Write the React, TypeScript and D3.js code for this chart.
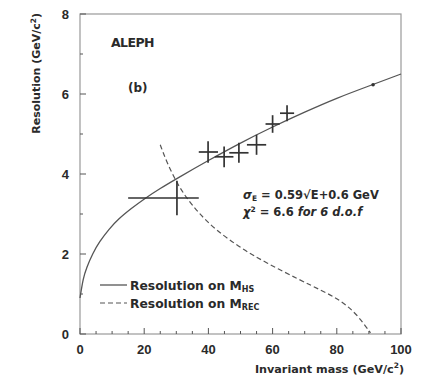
import React from "react";
import * as d3 from "d3";

const fitMass = [0, 1, 2, 4, 6, 9, 12, 16, 20, 25, 30, 40, 50, 60, 70, 80, 90, 100];
const fitRes = [0.9, 1.4, 1.65, 2.02, 2.3, 2.62, 2.88, 3.14, 3.38, 3.64, 3.88, 4.34, 4.78, 5.18, 5.55, 5.9, 6.2, 6.5];

const recMass = [25, 27, 30, 33, 37, 42, 50, 58, 68.5, 75, 81, 86, 90.5];
const recRes = [4.73, 4.3, 3.8, 3.42, 3.02, 2.62, 2.15, 1.78, 1.35, 1.1, 0.85, 0.52, 0.03];

const ptMass = [30.2, 39.9, 44.9, 49.5, 55, 60, 64.5];
const ptRes = [3.4, 4.55, 4.43, 4.53, 4.73, 5.25, 5.52];
const ptMassLo = [15, 37, 42, 46.5, 52, 57.8, 62.3];
const ptMassHi = [37, 43, 47.8, 52.5, 58, 62.2, 66.7];
const ptResErr = [0.43, 0.27, 0.26, 0.25, 0.25, 0.22, 0.2];

const zMass = [91.3];
const zRes = [6.23];

const xTicks = [0, 20, 40, 60, 80, 100];
const yTicks = [0, 2, 4, 6, 8];

export default function App() {
  const left = 80, right = 401, top = 14, bottom = 334;
  const x = d3.scaleLinear().domain([0, 100]).range([left, right]);
  const y = d3.scaleLinear().domain([0, 8]).range([bottom, top]);
  const gen = d3.line<[number, number]>().x(d => x(d[0])).y(d => y(d[1])).curve(d3.curveBasis);
  const fitPath = gen(fitMass.map((m, i) => [m, fitRes[i]]));
  const recPath = gen(recMass.map((m, i) => [m, recRes[i]]));
  const minorX = d3.range(0, 101, 5).filter(v => v % 20 !== 0);
  const minorY = [1, 3, 5, 7];
  const stroke = "#555";
  const txt = "#2a2a2a";
  const font = "'DejaVu Sans', sans-serif";
  const lib = "'Liberation Sans', Arial, sans-serif";
  return (
    <svg width={421} height={375} style={{ position: "absolute", left: 0, top: 0 }} fontFamily={font}>
      <rect x={0} y={0} width={421} height={375} fill="#fff" />
      <rect x={left} y={top} width={right - left} height={bottom - top} fill="none" stroke="#999" strokeWidth={1.2} />
      {xTicks.map(t => (
        <g key={"xt" + t}>
          <line x1={x(t)} x2={x(t)} y1={bottom} y2={bottom - 6} stroke={stroke} strokeWidth={1} />
          <text x={x(t)} y={bottom + 20} textAnchor="middle" fontSize={13} fontFamily={lib} fontWeight="bold" fill={txt}>{t}</text>
        </g>
      ))}
      {minorX.map(t => (
        <line key={"xm" + t} x1={x(t)} x2={x(t)} y1={bottom} y2={bottom - 3} stroke={stroke} strokeWidth={1} />
      ))}
      {yTicks.map(t => (
        <g key={"yt" + t}>
          <line x1={left} x2={left + 6} y1={y(t)} y2={y(t)} stroke={stroke} strokeWidth={1} />
          <text x={left - 11} y={y(t) + 5} textAnchor="end" fontSize={13} fontFamily={lib} fontWeight="bold" fill={txt}>{t}</text>
        </g>
      ))}
      {minorY.map(t => (
        <line key={"ym" + t} x1={left} x2={left + 3} y1={y(t)} y2={y(t)} stroke={stroke} strokeWidth={1} />
      ))}
      <path d={fitPath || ""} fill="none" stroke={stroke} strokeWidth={1.3} />
      <path d={recPath || ""} fill="none" stroke={stroke} strokeWidth={1.2} strokeDasharray="5,3" />
      {ptMass.map((m, i) => (
        <g key={"p" + i}>
          <line x1={x(ptMassLo[i])} x2={x(ptMassHi[i])} y1={y(ptRes[i])} y2={y(ptRes[i])} stroke="#333" strokeWidth={1.7} />
          <line x1={x(m)} x2={x(m)} y1={y(ptRes[i] - ptResErr[i])} y2={y(ptRes[i] + ptResErr[i])} stroke="#333" strokeWidth={1.7} />
        </g>
      ))}
      {zMass.map((m, i) => (
        <circle key={"z" + i} cx={x(m)} cy={y(zRes[i])} r={1.8} fill="#333" />
      ))}
      <text x={111} y={47} fontSize={12.5} fontWeight="bold" fill={txt} letterSpacing={-0.6}>ALEPH</text>
      <text x={128} y={92} fontSize={12} fontWeight="bold" fill={txt}>(b)</text>
      <text x={243} y={199} fontSize={11.5} fontWeight="bold" fill={txt}>
        <tspan fontStyle="italic">σ</tspan><tspan fontSize={7.5} dy={2}>E</tspan><tspan dy={-2}> = 0.59√E+0.6 GeV</tspan>
      </text>
      <text x={243} y={216} fontSize={11.5} fontWeight="bold" fill={txt}>
        <tspan fontStyle="italic">χ</tspan><tspan fontSize={7.5} dy={-4}>2</tspan><tspan dy={4}> = 6.6 </tspan><tspan fontStyle="italic">for 6 d.o.f</tspan>
      </text>
      <line x1={100} x2={127} y1={285} y2={285} stroke={stroke} strokeWidth={1.3} />
      <line x1={100} x2={127} y1={303} y2={303} stroke={stroke} strokeWidth={1.2} strokeDasharray="5,3" />
      <text x={130} y={290} fontSize={12.3} fontWeight="bold" fill={txt}>
        Resolution on M<tspan fontSize={8} dy={2}>HS</tspan>
      </text>
      <text x={130} y={308} fontSize={12.3} fontWeight="bold" fill={txt}>
        Resolution on M<tspan fontSize={8} dy={2}>REC</tspan>
      </text>
      <text x={404} y={373} textAnchor="end" fontSize={11.2} fontWeight="bold" fill={txt}>
        Invariant mass (GeV/c<tspan fontSize={7.5} dy={-5}>2</tspan><tspan dy={5}>)</tspan>
      </text>
      <text transform="translate(40,13) rotate(-90)" textAnchor="end" fontSize={11} fontWeight="bold" fill={txt}>
        Resolution (GeV/c<tspan fontSize={7.5} dy={-4}>2</tspan><tspan dy={4}>)</tspan>
      </text>
    </svg>
  );
}
